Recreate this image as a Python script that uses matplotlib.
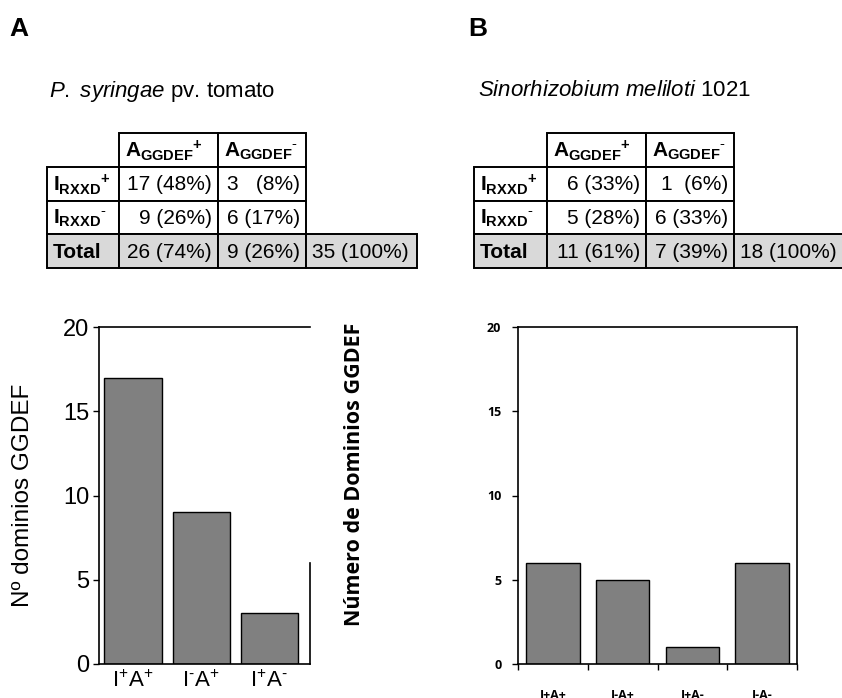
import matplotlib
matplotlib.use("Agg")
import matplotlib.pyplot as plt
from matplotlib.patches import Rectangle

plt.rcParams['font.family'] = ['Liberation Sans', 'DejaVu Sans']
plt.rcParams['mathtext.fontset'] = 'custom'
plt.rcParams['mathtext.rm'] = 'Liberation Sans'
plt.rcParams['mathtext.it'] = 'Liberation Sans:italic'
plt.rcParams['mathtext.bf'] = 'Liberation Sans:bold'
plt.rcParams['mathtext.default'] = 'regular'

# data
cats_a = ['I$^{+}$A$^{+}$', r'I$^{\text{-}}$A$^{+}$', r'I$^{+}$A$^{\text{-}}$']
vals_a = [17, 9, 3]
cats_b = ['I+A+', 'I-A+', 'I+A-', 'I-A-']
vals_b = [6, 5, 1, 6]

hdr = ['A$_{GGDEF}$$^{+}$', r'A$_{GGDEF}$$^{\text{-}}$']
rows = ['I$_{RXXD}$$^{+}$', r'I$_{RXXD}$$^{\text{-}}$', 'Total']
tab_a = [['17 (48%)', '3   (8%)'],
         ['9 (26%)', '6 (17%)'],
         ['26 (74%)', '9 (26%)', '35 (100%)']]
tab_b = [['6 (33%)', '1  (6%)'],
         ['5 (28%)', '6 (33%)'],
         ['11 (61%)', '7 (39%)', '18 (100%)']]

W, H = 842, 698
fig = plt.figure(figsize=(W / 100, H / 100), dpi=100)

# pixel canvas for letters, titles and tables
cv = fig.add_axes([0, 0, 1, 1])
cv.set_xlim(0, W)
cv.set_ylim(H, 0)
cv.axis('off')

tfs = 15

def draw_table(x0, widths, data):
    ys = [133, 167, 201, 234, 268]
    xs = [x0]
    for w in widths:
        xs.append(xs[-1] + w)
    lw = 1.4
    # header cells
    for j in range(2):
        cv.add_patch(Rectangle((xs[j + 1], ys[0]), widths[j + 1], ys[1] - ys[0],
                               fc='white', ec='black', lw=lw))
        cv.text(xs[j + 1] + 6, (ys[0] + ys[1]) / 2 + 1, hdr[j], fontsize=tfs,
                fontweight='bold', ha='left', va='center')
    for i in range(3):
        ncol = 3 if i < 2 else 4
        fc = 'white' if i < 2 else '#d9d9d9'
        for j in range(ncol):
            cv.add_patch(Rectangle((xs[j], ys[i + 1]), widths[j], ys[i + 2] - ys[i + 1],
                                   fc=fc, ec='black', lw=lw))
        yc = (ys[i + 1] + ys[i + 2]) / 2 + 1
        cv.text(xs[0] + 6, yc, rows[i], fontsize=tfs, fontweight='bold',
                ha='left', va='center')
        for j, s in enumerate(data[i]):
            if j < 2:
                cv.text(xs[j + 2] - 6, yc, s, fontsize=tfs, ha='right', va='center')
            else:
                cv.text(xs[3] + 6, yc, s, fontsize=tfs, ha='left', va='center')

cv.text(9, 29, 'A', fontsize=19, fontweight='bold', va='center')
cv.text(468, 29, 'B', fontsize=19, fontweight='bold', va='center')
cv.text(49, 91, r'$\it{P.}$ $\it{syringae}$ pv. tomato', fontsize=16, va='center')
cv.text(478, 91, r'$\it{Sinorhizobium}$ $\it{meliloti}$ 1021', fontsize=16, va='center')

draw_table(47, [72, 99, 88, 111], tab_a)
draw_table(474, [73, 99, 88, 111], tab_b)

# panel A bars
axa = fig.add_axes([99 / W, 34 / H, 211 / W, 337 / H])
axa.bar(range(len(vals_a)), vals_a, width=0.84, color='#808080', edgecolor='black', lw=1)
axa.set_xlim(-0.5, 2.6)
axa.set_ylim(0, 20)
axa.set_yticks([0, 5, 10, 15, 20])
axa.set_xticks(range(len(cats_a)))
axa.set_xticklabels(cats_a, fontsize=16)
axa.tick_params(axis='y', labelsize=17, length=4, width=1, pad=3)
axa.tick_params(axis='x', length=0, pad=5)
axa.spines['right'].set_bounds(0, 6)
for s in axa.spines.values():
    s.set_linewidth(1.2)
axa.set_ylabel('Nº dominios GGDEF', fontsize=17.5)
axa.yaxis.set_label_coords(-0.31, 0.5)

# panel B bars
bfont = ['Open Sans', 'DejaVu Sans']
axb = fig.add_axes([518 / W, 34 / H, 279 / W, 337 / H])
axb.bar(range(len(vals_b)), vals_b, width=0.77, color='#808080', edgecolor='black', lw=1)
axb.set_xlim(-0.5, 3.5)
axb.set_ylim(0, 20)
axb.set_yticks([0, 5, 10, 15, 20])
axb.set_xticks(range(len(cats_b)))
axb.set_xticklabels(cats_b)
axb.set_xticks([-0.5, 0.5, 1.5, 2.5, 3.5], minor=True)
axb.tick_params(axis='x', which='major', length=0, pad=18)
axb.tick_params(axis='x', which='minor', length=4, width=1)
axb.tick_params(axis='y', length=4, width=1, pad=8)
for lab in axb.get_xticklabels() + axb.get_yticklabels():
    lab.set_family(bfont)
    lab.set_fontweight('bold')
    lab.set_fontsize(9)
for s in axb.spines.values():
    s.set_linewidth(1.2)
axb.set_ylabel('Número de Dominios GGDEF', fontsize=15.5, fontweight='bold', family=bfont)
axb.yaxis.set_label_coords(-0.548, 0.564)

fig.savefig('out.png', dpi=100)
